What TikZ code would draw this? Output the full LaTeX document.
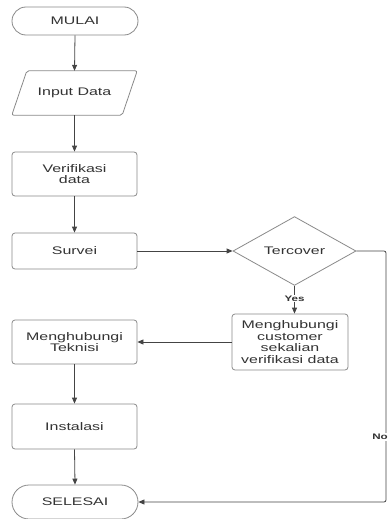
\documentclass[tikz,border=0pt]{standalone}
\usepackage{fontspec}
\setmainfont{Liberation Sans}[FakeStretch=1.45]
\usetikzlibrary{shapes.geometric,shapes.misc,arrows.meta}
\definecolor{ink}{HTML}{333333}
\definecolor{edge}{HTML}{8A8A8A}
\definecolor{wire}{HTML}{444444}
\begin{document}
\begin{tikzpicture}[x=1pt,y=-1pt,
  font=\fontsize{11}{11.7}\selectfont,
  base/.style={text=ink,align=center,inner sep=0pt},
  terminal/.style={base,rounded rectangle,draw=edge,line width=0.8pt,minimum width=126pt,minimum height=28pt},
  procbox/.style={base,rectangle,rounded corners=3pt,draw=edge,line width=0.8pt,minimum width=125pt},
  iobox/.style={base,rectangle,minimum width=125pt,minimum height=44pt},
  choice/.style={base,diamond,draw=edge,line width=0.8pt,minimum width=123pt,minimum height=53pt},
  flow/.style={wire,line width=0.8pt,-{Triangle[length=6pt,width=5pt]}},
  tag/.style={text=ink,font=\fontsize{8}{8}\selectfont\bfseries,fill=white,inner sep=1pt}]
\useasboundingbox[fill=white] (0,0) rectangle (389,519);

\node[terminal] (mulai) at (75,21) {MULAI};
\node[iobox] (input) at (74.5,93) {Input Data};
\draw[edge,line width=0.8pt,rounded corners=2pt]
  ([xshift=15pt]input.north west) -- (input.north east)
  -- ([xshift=-15pt]input.south east) -- (input.south west) -- cycle;
\node[procbox,minimum height=44pt] (verif) at (74.5,174) {Verifikasi\\data};
\node[procbox,minimum height=36pt] (survei) at (74.5,251) {Survei};
\node[choice] (tercover) at (294.5,251) {Tercover};
\node[procbox,minimum width=116pt,minimum height=56pt] (customer) at (290,342)
  {Menghubungi\\customer\\sekalian\\verifikasi data};
\node[procbox,minimum height=44pt] (teknisi) at (74.5,342) {Menghubungi\\Teknisi};
\node[procbox,minimum height=45pt] (instalasi) at (74.5,426.5) {Instalasi};
\node[terminal,minimum height=34pt] (selesai) at (75,502) {SELESAI};

\draw[flow] (mulai.south) -- (input.north);
\draw[flow] (input.south) -- (verif.north);
\draw[flow] (verif.south) -- (survei.north);
\draw[flow] (survei.east) -- (tercover.west);
\draw[flow] (tercover.south) -- node[tag,pos=0.45] {Yes} (tercover.south |- customer.north);
\draw[flow] (customer.west) -- (teknisi.east);
\draw[flow] (teknisi.south) -- (instalasi.north);
\draw[flow] (instalasi.south) -- (selesai.north);

\coordinate (noturn) at (386,251);
\draw[flow,rounded corners=2pt] (tercover.east) -- (noturn) |- (selesai.east);
\node[tag,anchor=east] (nolabel) at (389,437) {No};
\end{tikzpicture}
\end{document}
